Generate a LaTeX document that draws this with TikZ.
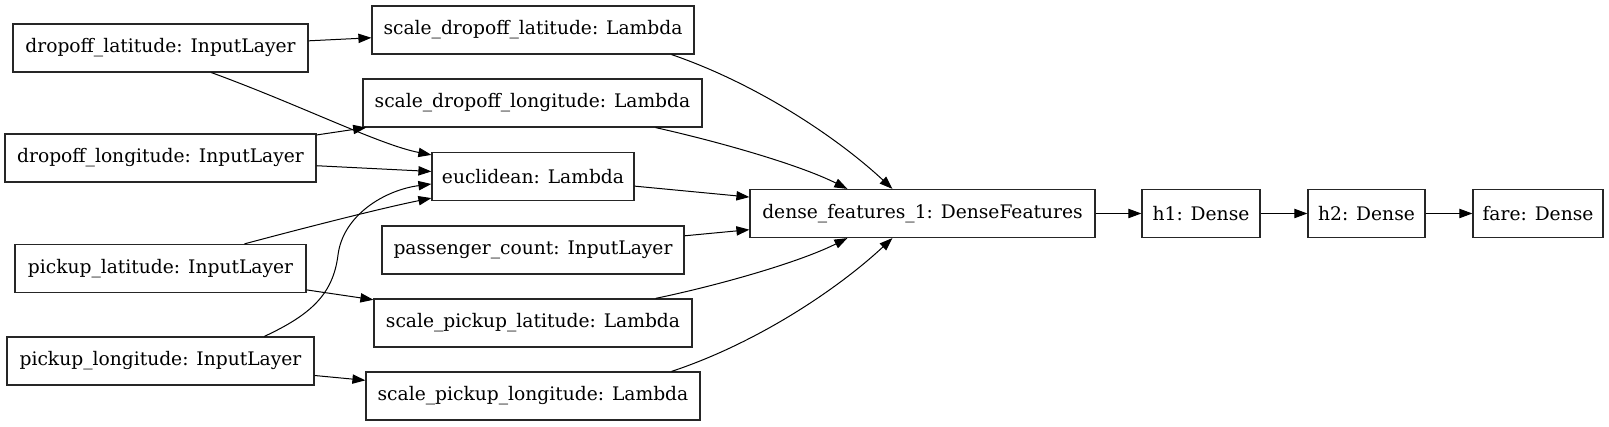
\documentclass[tikz,border=0pt]{standalone}
\usepackage{fontspec}
\setmainfont{DejaVu Serif}
\usetikzlibrary{arrows.meta,calc}
\begin{document}
\begin{tikzpicture}[x=1pt,y=1pt,
  box/.style={draw=black!85, line width=1.2pt, rectangle, inner sep=0pt,
    minimum height=48pt, font=\fontsize{18.67}{22}\selectfont},
  edge/.style={line width=1pt, -{Triangle[length=13pt,width=9.3pt]}}]
\useasboundingbox (0,0) rectangle (1609,427);
% left column
\node[box, minimum width=295pt] (dlat) at (160.5,379) {dropoff\_latitude: InputLayer};
\node[box, minimum width=311pt] (dlon) at (160.5,269) {dropoff\_longitude: InputLayer};
\node[box, minimum width=291pt] (plat) at (160.5,158.5) {pickup\_latitude: InputLayer};
\node[box, minimum width=307pt] (plon) at (160.5,66) {pickup\_longitude: InputLayer};
% middle column
\node[box, minimum width=322pt] (sdlat) at (533,397) {scale\_dropoff\_latitude: Lambda};
\node[box, minimum width=339pt] (sdlon) at (532.5,324) {scale\_dropoff\_longitude: Lambda};
\node[box, minimum width=202pt] (eucl) at (533,250.5) {euclidean: Lambda};
\node[box, minimum width=302pt] (pc) at (533,177) {passenger\_count: InputLayer};
\node[box, minimum width=318pt] (splat) at (533,104) {scale\_pickup\_latitude: Lambda};
\node[box, minimum width=334pt] (splon) at (533,31) {scale\_pickup\_longitude: Lambda};
% right chain
\node[box, minimum width=345pt] (dense) at (922.5,213.5) {dense\_features\_1: DenseFeatures};
\node[box, minimum width=118pt] (h1) at (1201,213.5) {h1: Dense};
\node[box, minimum width=117pt] (h2) at (1366.5,213.5) {h2: Dense};
\node[box, minimum width=130pt] (fare) at (1538,213.5) {fare: Dense};
% straight edges
\draw[edge] (dlat) -- (sdlat);
\draw[edge] (dlon) -- (sdlon);
\draw[edge] (dlon) -- (eucl);
\draw[edge] (plat) -- (splat);
\draw[edge] (plon) -- (splon);
\draw[edge] (eucl) -- (dense);
\draw[edge] (pc) -- (dense);
\draw[edge] (dense) -- (h1);
\draw[edge] (h1) -- (h2);
\draw[edge] (h2) -- (fare);
% curved edges
\draw[edge] ($(dlat.south west)+(199,0)$) .. controls (300,322) and (380,282) .. ($(eucl.north west)+(0,-3)$);
\draw[edge] ($(plat.north west)+(230,0)$) .. controls (300,198) and (380,218.5) .. ($(eucl.south west)+(0,3)$);
\draw[edge] ($(plon.north west)+(258,0)$) .. controls (310,112) and (333,132) .. (338,172)
   .. controls (343,212) and (385,237) .. ($(eucl.west)+(0,-7.5)$);
\draw[edge] ($(sdlat.south east)+(-23,0)$) .. controls (760,342) and (840,287) .. ($(dense.north west)+(143,0)$);
\draw[edge] ($(sdlon.south east)+(-47,0)$) .. controls (720,285) and (800,262) .. ($(dense.north west)+(98,0)$);
\draw[edge] ($(splat.north east)+(-37,0)$) .. controls (720,142) and (800,165) .. ($(dense.south west)+(98,0)$);
\draw[edge] ($(splon.north east)+(-29,0)$) .. controls (760,85) and (840,140) .. ($(dense.south west)+(143,0)$);
\end{tikzpicture}
\end{document}
